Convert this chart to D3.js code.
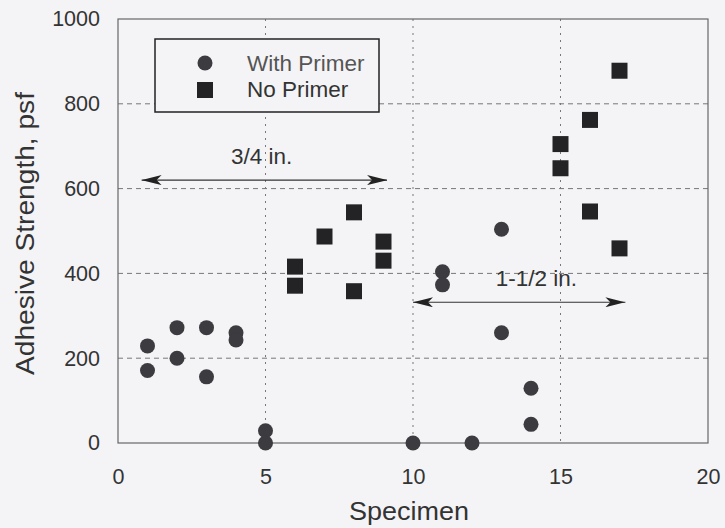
<!DOCTYPE html>
<html>
<head>
<meta charset="utf-8">
<script src="https://cdn.jsdelivr.net/npm/d3@7"></script>
<style>
  html, body { margin: 0; padding: 0; background: #f4f4f6; }
  svg { display: block; font-family: "Liberation Sans", Arial, sans-serif; }
</style>
</head>
<body>
<svg id="chart" width="725" height="528"></svg>
<script>
// Specimen numbers and adhesive strength (psf)
const withPrimerX = [1, 1, 2, 2, 3, 3, 4, 4, 5, 5, 10, 11, 11, 12, 13, 13, 14, 14];
const withPrimerY = [229, 171, 272, 200, 272, 156, 260, 243, 29, 0, 0, 404, 373, 0, 504, 260, 129, 44];
const noPrimerX = [6, 6, 7, 8, 8, 9, 9, 15, 15, 16, 16, 17, 17];
const noPrimerY = [416, 371, 487, 544, 358, 475, 430, 705, 648, 762, 546, 878, 459];

const xTicks = [0, 5, 10, 15, 20];
const yTicks = [0, 200, 400, 600, 800, 1000];

// Range arrows: [label, xStart, xEnd, y, label x]
const spans = [
  ["3/4 in.", 0.8, 9.12, 620, 4.87],
  ["1-1/2 in.", 10.0, 17.2, 332, 14.18]
];

const svg = d3.select("#chart");
const mLeft = 118, mRight = 708, mTop = 19, mBottom = 443;

const x = d3.scaleLinear().domain([0, 20]).range([mLeft, mRight]);
const y = d3.scaleLinear().domain([0, 1000]).range([mBottom, mTop]);

const defs = svg.append("defs");
["start", "end"].forEach(k => {
  defs.append("marker")
    .attr("id", "arrow-" + k)
    .attr("viewBox", "0 0 20 10")
    .attr("refX", k === "end" ? 20 : 0).attr("refY", 5)
    .attr("markerWidth", 20).attr("markerHeight", 10)
    .attr("markerUnits", "userSpaceOnUse")
    .attr("orient", "auto")
    .append("path")
    .attr("d", k === "end" ? "M0,0 L20,5 L0,10 L5,5 Z" : "M20,0 L0,5 L20,10 L15,5 Z")
    .attr("fill", "#222");
});

// Grid lines
svg.append("g").selectAll("line").data(yTicks.filter(d => d > 0 && d < 1000)).join("line")
  .attr("x1", mLeft).attr("x2", mRight)
  .attr("y1", d => y(d)).attr("y2", d => y(d))
  .attr("stroke", "#777").attr("stroke-width", 1).attr("stroke-dasharray", "5,4");
svg.append("g").selectAll("line").data(xTicks.filter(d => d > 0 && d < 20)).join("line")
  .attr("y1", mTop).attr("y2", mBottom)
  .attr("x1", d => x(d)).attr("x2", d => x(d))
  .attr("stroke", "#777").attr("stroke-width", 1).attr("stroke-dasharray", "2,5");

// Frame
svg.append("rect").attr("x", mLeft).attr("y", mTop)
  .attr("width", mRight - mLeft).attr("height", mBottom - mTop)
  .attr("fill", "none").attr("stroke", "#666").attr("stroke-width", 1.2);

// Axes
const xAxis = svg.append("g").attr("transform", `translate(0,${mBottom})`)
  .call(d3.axisBottom(x).tickValues(xTicks).tickSize(0).tickFormat(d3.format("d")));
const yAxis = svg.append("g").attr("transform", `translate(${mLeft},0)`)
  .call(d3.axisLeft(y).tickValues(yTicks).tickSize(0).tickPadding(18).tickFormat(d3.format("d")));
[xAxis, yAxis].forEach(a => {
  a.select(".domain").remove();
  a.selectAll("text").attr("font-size", 21.5).attr("fill", "#333")
    .attr("font-family", "Liberation Sans, Arial, sans-serif");
});
xAxis.selectAll("text").attr("y", 41).attr("dy", null);

svg.append("text").attr("x", 409).attr("y", 520)
  .attr("text-anchor", "middle").attr("font-size", 25).attr("fill", "#333")
  .attr("textLength", 120).attr("lengthAdjust", "spacingAndGlyphs")
  .text("Specimen");
svg.append("text")
  .attr("transform", `translate(34,233.5) rotate(-90)`)
  .attr("text-anchor", "middle").attr("font-size", 25).attr("fill", "#333")
  .attr("textLength", 283).attr("lengthAdjust", "spacingAndGlyphs")
  .text("Adhesive Strength, psf");

// Range arrows
const sp = svg.append("g").selectAll("g").data(spans).join("g");
sp.append("line")
  .attr("x1", d => x(d[1])).attr("x2", d => x(d[2]))
  .attr("y1", d => y(d[3])).attr("y2", d => y(d[3]))
  .attr("stroke", "#333").attr("stroke-width", 1.2)
  .attr("marker-start", "url(#arrow-start)").attr("marker-end", "url(#arrow-end)");
sp.append("text")
  .attr("x", d => x(d[4]))
  .attr("y", d => y(d[3]) - 16)
  .attr("text-anchor", "middle").attr("font-size", 22.5).attr("fill", "#333")
  .text(d => d[0]);

// Points
const wp = withPrimerX.map((v, i) => [v, withPrimerY[i]]);
const np = noPrimerX.map((v, i) => [v, noPrimerY[i]]);
const sq = 16;
svg.append("g").selectAll("rect").data(np).join("rect")
  .attr("x", d => x(d[0]) - sq / 2).attr("y", d => y(d[1]) - sq / 2)
  .attr("width", sq).attr("height", sq).attr("fill", "#232326");
svg.append("g").selectAll("circle").data(wp).join("circle")
  .attr("cx", d => x(d[0])).attr("cy", d => y(d[1])).attr("r", 7.5)
  .attr("fill", "#3c3b40");

// Legend
const lg = svg.append("g");
lg.append("rect").attr("x", 155).attr("y", 39).attr("width", 224).attr("height", 73)
  .attr("fill", "#f4f4f6").attr("stroke", "#222").attr("stroke-width", 1.5);
lg.append("circle").attr("cx", 205).attr("cy", 63).attr("r", 7.5).attr("fill", "#3c3b40");
lg.append("rect").attr("x", 197).attr("y", 82).attr("width", sq).attr("height", sq).attr("fill", "#232326");
lg.append("text").attr("x", 247).attr("y", 71).attr("font-size", 22.5).attr("fill", "#555").text("With Primer");
lg.append("text").attr("x", 247).attr("y", 97).attr("font-size", 22.5).attr("fill", "#333").text("No Primer");
</script>
</body>
</html>
